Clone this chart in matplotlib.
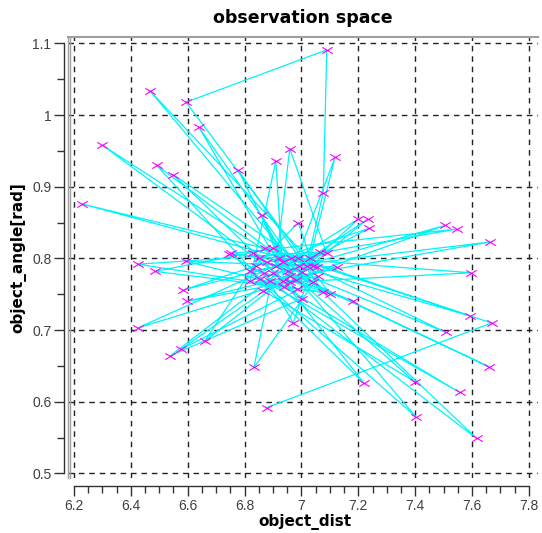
import matplotlib
matplotlib.use("Agg")
import matplotlib.pyplot as plt
from matplotlib.path import Path
from matplotlib.ticker import MultipleLocator, FuncFormatter
from matplotlib.lines import Line2D
import matplotlib.transforms as mtransforms

# observation sequence (object_dist, object_angle)
object_dist = [
    6.878, 7.669, 6.872, 6.229, 7.053, 6.467, 7.001, 7.616, 6.889, 7.663,
    6.819, 7.403, 6.936, 6.300, 6.983, 6.594, 7.124, 6.424, 6.965, 6.638,
    6.959, 7.598, 6.746, 7.557, 6.854, 6.491, 7.041, 6.575, 7.065, 6.424,
    7.100, 6.594, 7.089, 7.077, 7.018, 6.549, 7.001, 6.538, 6.989, 7.592,
    6.830, 7.507, 6.901, 6.485, 7.077, 6.778, 6.953, 7.399, 6.866, 7.504,
    6.819, 6.910, 6.936, 7.220, 6.754, 7.546, 6.880, 6.584, 7.089, 6.959,
    6.910, 7.659, 6.850, 6.661, 7.030, 7.118, 6.960, 6.596, 7.060, 6.833,
    6.900, 7.200, 6.940, 7.233, 6.990, 7.238, 6.920, 6.860, 6.980, 7.182,
    6.870, 6.971, 7.040, 6.989, 6.840,
]
object_angle = [
    0.592, 0.710, 0.814, 0.876, 0.788, 1.034, 0.781, 0.549, 0.769, 0.823,
    0.783, 0.579, 0.795, 0.958, 0.758, 0.796, 0.788, 0.703, 0.800, 0.984,
    0.767, 0.780, 0.806, 0.613, 0.772, 0.930, 0.767, 0.673, 0.809, 0.792,
    0.751, 1.018, 1.091, 0.892, 0.790, 0.917, 0.744, 0.664, 0.801, 0.720,
    0.807, 0.697, 0.814, 0.782, 0.753, 0.923, 0.783, 0.628, 0.755, 0.846,
    0.769, 0.936, 0.769, 0.626, 0.807, 0.841, 0.795, 0.756, 0.807, 0.953,
    0.790, 0.649, 0.800, 0.685, 0.800, 0.941, 0.775, 0.740, 0.775, 0.648,
    0.780, 0.855, 0.760, 0.855, 0.790, 0.842, 0.800, 0.860, 0.770, 0.741,
    0.780, 0.710, 0.790, 0.850, 0.790,
]

title = "observation space"
xlabel = "object_dist"
ylabel = "object_angle[rad]"

W, H = 542, 533
fig = plt.figure(figsize=(W / 100, H / 100), dpi=100)
fig.patch.set_facecolor("white")

# axes box in pixels: left 68, right 538, top 37, bottom 478
ax = fig.add_axes([68 / W, (H - 478) / H, (538 - 68) / W, (478 - 37) / H])
ax.set_xlim(6.179, 7.832)
ax.set_ylim(0.4937, 1.109)

flat_x = Path([(-1, -0.6), (1, 0.6), (-1, 0.6), (1, -0.6)],
              [Path.MOVETO, Path.LINETO, Path.MOVETO, Path.LINETO])

ax.plot(object_dist, object_angle, color="#00f4f8", lw=0.9, zorder=2)
ax.plot(object_dist, object_angle, linestyle="none", marker=flat_x,
        markersize=7.5, markeredgewidth=0.8, color="#ff00ff",
        markeredgecolor="#ff00ff", zorder=3)

# ticks
ax.xaxis.set_major_locator(MultipleLocator(0.2))
ax.xaxis.set_minor_locator(MultipleLocator(0.05))
ax.yaxis.set_major_locator(MultipleLocator(0.1))
ax.yaxis.set_minor_locator(MultipleLocator(0.05))
fmt = FuncFormatter(lambda v, p: "%g" % round(v, 3))
ax.xaxis.set_major_formatter(fmt)
ax.yaxis.set_major_formatter(fmt)

ax.grid(True, which="major", color="#222222", linestyle=(0, (4, 3.5)), lw=1)
ax.set_axisbelow(True)

for s in ["top", "right"]:
    ax.spines[s].set_visible(False)
ax.spines["bottom"].set_position(("outward", 6))
ax.spines["bottom"].set_bounds(6.2, 7.8)
ax.spines["left"].set_position(("outward", 3))
ax.spines["left"].set_bounds(0.5, 1.1)
for s in ["bottom", "left"]:
    ax.spines[s].set_color("#333333")
    ax.spines[s].set_linewidth(1)

ax.tick_params(axis="both", which="major", direction="out", length=7,
               width=1, color="#333333", labelcolor="#404040", labelsize=10,
               pad=2)
ax.tick_params(axis="both", which="minor", direction="out", length=5,
               width=1, color="#333333")
for lab in ax.get_xticklabels() + ax.get_yticklabels():
    lab.set_fontfamily(["Liberation Sans", "DejaVu Sans"])

# gray frame (top line and double left line)
ax.add_line(Line2D([0, 1], [1, 1], transform=ax.transAxes, color="#a0a0a0",
                   lw=1.5, clip_on=False, zorder=4))
ax.add_line(Line2D([0, 0], [0, 1], transform=ax.transAxes, color="#a0a0a0",
                   lw=1.0, clip_on=False, zorder=4))
off = mtransforms.offset_copy(ax.transAxes, fig=fig, x=2, y=0, units="dots")
ax.add_line(Line2D([0, 0], [0, 1], transform=off, color="#a0a0a0",
                   lw=1.0, clip_on=False, zorder=4))

fig.text(303 / W, 1 - 18 / H, title, ha="center", va="center",
         fontsize=12.5, fontweight="bold", family="DejaVu Sans")
fig.text(305 / W, 1 - 522 / H, xlabel, ha="center", va="center",
         fontsize=11, fontweight="bold", family="DejaVu Sans")
fig.text(18 / W, 1 - 258 / H, ylabel, ha="center", va="center",
         rotation=90, fontsize=11, fontweight="bold", family="DejaVu Sans")

fig.savefig("out.png", dpi=100, facecolor="white")
